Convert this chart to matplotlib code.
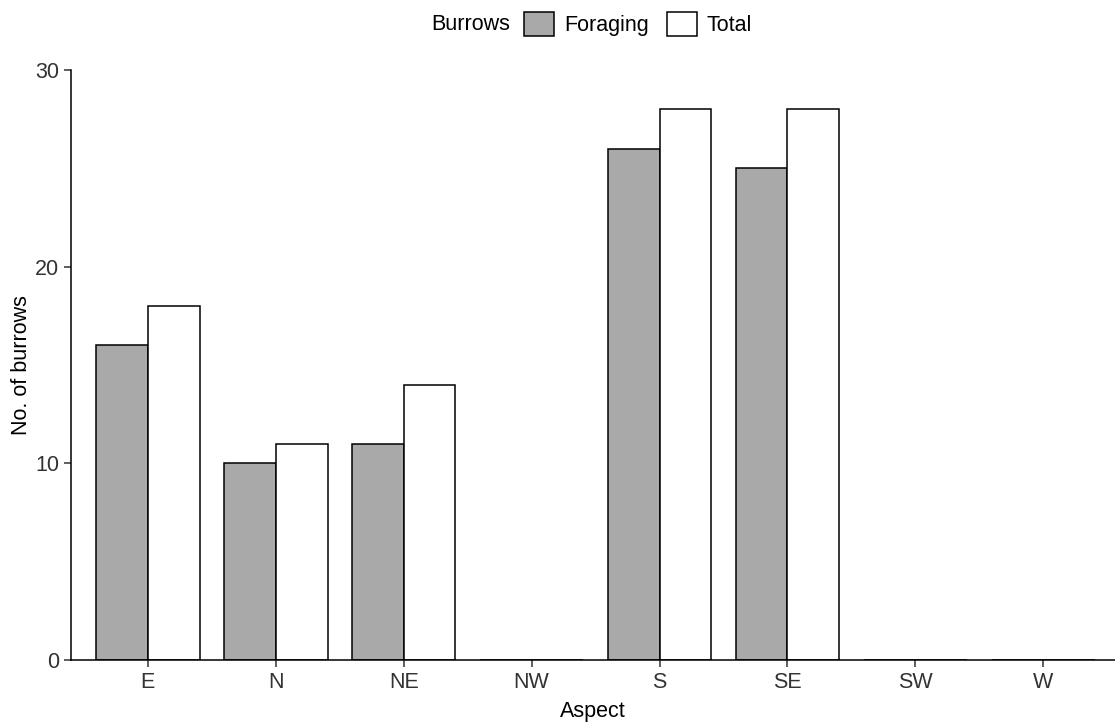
import numpy as np
import matplotlib.pyplot as plt
from matplotlib.patches import Patch

plt.rcParams['font.family'] = ['Liberation Sans', 'DejaVu Sans']

# Burrow counts per slope aspect
aspects = ['E', 'N', 'NE', 'NW', 'S', 'SE', 'SW', 'W']
foraging = [16, 10, 11, 0, 26, 25, 0, 0]
total = [18, 11, 14, 0, 28, 28, 0, 0]

x = np.arange(len(aspects))
w = 0.405
fs = 15.5

fig = plt.figure(figsize=(11.15, 7.24), dpi=100)
ax = fig.add_axes([71/1115, 64/724, 1 - 71/1115, 590/724])

ax.bar(x - w/2, foraging, width=w, color='#a9a9a9', edgecolor='black', linewidth=1.1)
ax.bar(x + w/2, total, width=w, color='white', edgecolor='black', linewidth=1.1)

ax.set_xlim(-0.6, 7.56)
ax.set_ylim(0, 30)
ax.set_yticks([0, 10, 20, 30])
ax.set_xticks(x)
ax.set_xticklabels(aspects)
ax.tick_params(labelsize=fs, colors='#333333', labelcolor='#333333', length=5, width=1.1)
ax.set_xlabel('Aspect', fontsize=fs, labelpad=6)
ax.set_ylabel('No. of burrows', fontsize=fs, labelpad=2)

for s in ['top', 'right']:
    ax.spines[s].set_visible(False)
for s in ['left', 'bottom']:
    ax.spines[s].set_linewidth(1.1)
    ax.spines[s].set_color('black')

# legend across the top
fig.text(431/1115, 1 - 25/724, 'Burrows', fontsize=fs, va='center', ha='left')
handles = [Patch(facecolor='#a9a9a9', edgecolor='black', linewidth=1.1, label='Foraging'),
           Patch(facecolor='white', edgecolor='black', linewidth=1.1, label='Total')]
fig.legend(handles=handles, loc='center left', bbox_to_anchor=(524/1115, 1 - 24/724),
           ncol=2, frameon=False, fontsize=fs, handlelength=1.4, handleheight=1.4,
           handletextpad=0.45, columnspacing=0.85, borderaxespad=0, borderpad=0)

fig.savefig('out.png', dpi=100)
